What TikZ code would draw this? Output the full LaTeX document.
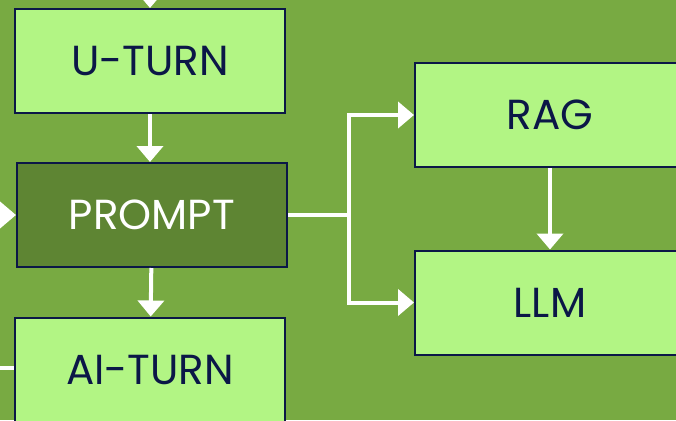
\documentclass[tikz,border=0pt]{standalone}
\usepackage{fontspec}
\setmainfont{Poppins}
\usetikzlibrary{arrows.meta}
\definecolor{bggreen}{HTML}{78AA42}
\definecolor{boxgreen}{HTML}{B2F584}
\definecolor{darkgreen}{HTML}{5E8533}
\definecolor{navy}{HTML}{0B1747}

\begin{document}
\begin{tikzpicture}[x=1pt,y=-1pt,
  block/.style={draw=navy,line width=2pt,fill=boxgreen,text=navy,
    minimum width=270pt,minimum height=104pt,font=\fontsize{42}{44}\selectfont},
  arr/.style={draw=white,line width=4pt,-{Triangle[width=26pt,length=16pt]}}]
  \fill[bggreen] (0,0) rectangle (676,420);
  \useasboundingbox (0,0) rectangle (676,420);
  \clip (0,0) rectangle (676,420);
  \node[block] (uturn) at (150,61) {U-TURN};
  \node[block,fill=darkgreen,text=white] (prompt) at (152,215) {PROMPT};
  \node[block] (aiturn) at (150,369.5) {AI-TURN};
  \node[block] (rag) at (550,115) {RAG};
  \node[block] (llm) at (550,302.5) {LLM};
  \coordinate (top) at (150,-20);
  \coordinate (left) at (-20,215);
  \coordinate (back) at (-20,368);
  \coordinate (split) at (349,215);
  \draw[arr] (top) -- (uturn);
  \draw[arr] (uturn) -- (uturn.south |- prompt.north);
  \draw[arr] (left) -- (prompt);
  \draw[arr] (prompt) -- (aiturn);
  \draw[draw=white,line width=4pt] (back) -- (aiturn.west |- back);
  \draw[draw=white,line width=4pt] (prompt.east) -- (split);
  \draw[arr] (split) |- (rag.west);
  \draw[arr] (split) |- (llm.west);
  \draw[arr] (rag) -- (llm);
\end{tikzpicture}
\end{document}
